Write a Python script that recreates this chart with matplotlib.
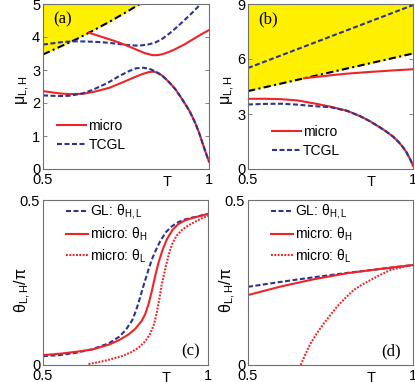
import matplotlib
matplotlib.use("Agg")
import matplotlib.pyplot as plt

RED = '#ee2428'
BLUE = '#2b3590'
YEL = '#fff000'
FRAME = '#707070'

# ---------------- panel (a) ----------------
a_dd_x = [0.5, 0.55, 0.6, 0.65, 0.7, 0.75, 0.8]
a_dd_y = [3.47, 3.70, 3.93, 4.19, 4.46, 4.75, 5.05]
a_bu_x = [0.5, 0.53, 0.56, 0.6, 0.64, 0.68, 0.72, 0.75, 0.78, 0.8, 0.82, 0.84, 0.86, 0.88, 0.9, 0.925, 0.95, 0.975]
a_bu_y = [3.77, 3.81, 3.85, 3.87, 3.86, 3.84, 3.80, 3.76, 3.74, 3.75, 3.78, 3.84, 3.95, 4.10, 4.27, 4.50, 4.74, 5.00]
a_ru_x = [0.638, 0.66, 0.7, 0.73, 0.76, 0.79, 0.81, 0.83, 0.845, 0.86, 0.88, 0.9, 0.925, 0.95, 0.975, 1.0]
a_ru_y = [4.13, 4.06, 3.93, 3.83, 3.71, 3.58, 3.50, 3.45, 3.45, 3.48, 3.55, 3.64, 3.77, 3.92, 4.07, 4.21]
a_rl_x = [0.5, 0.55, 0.58, 0.62, 0.65, 0.7, 0.75, 0.78, 0.8, 0.82, 0.835, 0.85, 0.86, 0.875, 0.89, 0.9, 0.92, 0.94, 0.95, 0.96, 0.97, 0.98, 0.99, 1.0]
a_rl_y = [2.36, 2.29, 2.27, 2.28, 2.33, 2.46, 2.67, 2.80, 2.88, 2.94, 2.95, 2.89, 2.82, 2.68, 2.52, 2.40, 2.10, 1.78, 1.58, 1.36, 1.10, 0.80, 0.50, 0.22]
a_bl_x = [0.5, 0.55, 0.58, 0.62, 0.65, 0.68, 0.7, 0.73, 0.76, 0.78, 0.8, 0.82, 0.84, 0.86, 0.875, 0.89, 0.9, 0.92, 0.94, 0.95, 0.96, 0.97, 0.98, 0.99, 1.0]
a_bl_y = [2.23, 2.21, 2.22, 2.29, 2.40, 2.54, 2.64, 2.82, 2.97, 3.05, 3.07, 3.04, 2.95, 2.82, 2.68, 2.52, 2.40, 2.10, 1.78, 1.58, 1.36, 1.10, 0.80, 0.50, 0.22]

# ---------------- panel (b) ----------------
b_dd_x = [0.5, 1.0]
b_dd_y = [4.25, 6.30]
b_bu_x = [0.5, 1.0]
b_bu_y = [5.51, 8.94]
b_ru_x = [0.67, 0.72, 0.76, 0.8, 0.85, 0.9, 0.95, 1.0]
b_ru_y = [4.95, 5.05, 5.13, 5.20, 5.27, 5.33, 5.39, 5.44]
b_rl_x = [0.5, 0.55, 0.6, 0.65, 0.7, 0.75, 0.8, 0.84, 0.87, 0.9, 0.92, 0.94, 0.955, 0.97, 0.98, 0.99, 0.995, 1.0]
b_rl_y = [3.83, 3.83, 3.81, 3.74, 3.58, 3.40, 3.18, 2.88, 2.60, 2.27, 2.03, 1.76, 1.50, 1.18, 0.92, 0.58, 0.40, 0.18]
b_bl_x = [0.5, 0.55, 0.6, 0.65, 0.7, 0.75, 0.8, 0.84, 0.87, 0.9, 0.92, 0.94, 0.955, 0.97, 0.98, 0.99, 0.995, 1.0]
b_bl_y = [3.52, 3.55, 3.56, 3.51, 3.43, 3.37, 3.17, 2.88, 2.60, 2.27, 2.03, 1.76, 1.50, 1.18, 0.92, 0.58, 0.40, 0.18]

# ---------------- panel (c) ----------------
c_gl_x = [0.5, 0.55, 0.6, 0.65, 0.7, 0.73, 0.75, 0.77, 0.78, 0.79, 0.8, 0.81, 0.82, 0.83, 0.842, 0.855, 0.872, 0.89, 0.91, 0.93, 0.953, 0.975, 1.0]
c_gl_y = [0.027, 0.030, 0.037, 0.048, 0.066, 0.085, 0.105, 0.135, 0.160, 0.190, 0.225, 0.258, 0.290, 0.320, 0.348, 0.375, 0.402, 0.420, 0.433, 0.441, 0.447, 0.452, 0.458]
c_h_x = [0.5, 0.55, 0.6, 0.65, 0.7, 0.73, 0.76, 0.78, 0.8, 0.81, 0.82, 0.83, 0.84, 0.85, 0.862, 0.875, 0.892, 0.91, 0.932, 0.955, 0.975, 1.0]
c_h_y = [0.030, 0.034, 0.040, 0.047, 0.062, 0.075, 0.093, 0.110, 0.135, 0.155, 0.185, 0.225, 0.270, 0.310, 0.348, 0.380, 0.409, 0.427, 0.439, 0.446, 0.451, 0.458]
c_l_x = [0.638, 0.67, 0.7, 0.74, 0.77, 0.79, 0.81, 0.825, 0.837, 0.845, 0.852, 0.86, 0.872, 0.882, 0.892, 0.905, 0.922, 0.94, 0.963, 0.98, 1.0]
c_l_y = [0.003, 0.009, 0.016, 0.027, 0.040, 0.053, 0.072, 0.095, 0.125, 0.160, 0.197, 0.245, 0.298, 0.338, 0.368, 0.392, 0.410, 0.423, 0.435, 0.444, 0.452]

# ---------------- panel (d) ----------------
d_gl_x = [0.5, 0.6, 0.7, 0.8, 0.9, 1.0]
d_gl_y = [0.237, 0.252, 0.266, 0.279, 0.291, 0.303]
d_h_x = [0.5, 0.6, 0.7, 0.8, 0.9, 1.0]
d_h_y = [0.212, 0.238, 0.260, 0.278, 0.291, 0.303]
d_l_x = [0.66, 0.665, 0.675, 0.69, 0.71, 0.73, 0.75, 0.77, 0.795, 0.82, 0.845, 0.872, 0.9, 0.932, 0.965, 1.0]
d_l_y = [0.0, 0.012, 0.035, 0.066, 0.098, 0.126, 0.152, 0.177, 0.203, 0.227, 0.243, 0.258, 0.273, 0.288, 0.296, 0.303]

W, H = 415, 382
plt.rcParams['font.family'] = ['Liberation Sans', 'DejaVu Sans']
plt.rcParams['mathtext.fontset'] = 'custom'
plt.rcParams['mathtext.rm'] = 'Liberation Sans'
plt.rcParams['mathtext.it'] = 'Liberation Sans'
plt.rcParams['mathtext.default'] = 'regular'
fig = plt.figure(figsize=(W / 100, H / 100), dpi=100)

LW = 1.5
DASH = (2.4, 1.2)
DASHDOT = (3.5, 1.6, 1.0, 1.6)
DOT = (0.9, 0.7)


def mkax(l, r, t, b):
    return fig.add_axes([l / W, (H - b) / H, (r - l) / W, (b - t) / H])


def style(ax, yt, ylim, ylabel, ly):
    ax.set_xlim(0.5, 1.0)
    ax.set_ylim(*ylim)
    ax.set_xticks([0.5, 1.0])
    ax.set_xticklabels(['0.5', '1'])
    ax.set_yticks(yt)
    ax.set_yticklabels([('%g' % v) for v in yt])
    ax.tick_params(direction='in', length=3, width=0.6, color=FRAME,
                   labelsize=10.5, pad=2, right=True, top=False)
    ax.tick_params(axis='x', length=0, pad=3)
    for s in ax.spines.values():
        s.set_color(FRAME)
        s.set_linewidth(0.8)
    ax.set_xlabel('T', fontsize=10.5)
    ax.xaxis.set_label_coords(0.745, -0.038, transform=ax.transAxes)
    ax.xaxis.label.set_verticalalignment('top')
    ax.set_ylabel(ylabel, fontsize=11.5)
    ax.yaxis.set_label_coords(-0.12, ly, transform=ax.transAxes)
    ax.yaxis.label.set_verticalalignment('center')


def leg(ax, x, y, hl, sp):
    ax.legend(loc='upper left', bbox_to_anchor=(x, y), frameon=False,
              fontsize=10, handlelength=hl, handletextpad=0.15, borderpad=0,
              borderaxespad=0, labelspacing=sp)


# (a)
ax = mkax(43, 209, 4, 169)
ax.fill_between(a_dd_x, a_dd_y, 5.5, color=YEL, lw=0)
ax.plot(a_dd_x, a_dd_y, color='k', ls=(0, DASHDOT), lw=LW)
ax.plot(a_bu_x, a_bu_y, color=BLUE, ls=(0, DASH), lw=LW)
ax.plot(a_ru_x, a_ru_y, color=RED, ls='-', lw=LW)
ax.plot(a_rl_x, a_rl_y, color=RED, ls='-', lw=LW, label='micro')
ax.plot(a_bl_x, a_bl_y, color=BLUE, ls=(0, DASH), lw=LW, label='TCGL')
style(ax, [0, 1, 2, 3, 4, 5], (0, 5), r'$\mu_{L,H}$', 0.48)
leg(ax, 0.085, 0.305, 2.1, 0.35)
ax.text(0.06, 0.905, '(a)', transform=ax.transAxes, fontsize=12,
        family='Liberation Serif', va='center')

# (b)
ax = mkax(248, 413, 4, 169)
ax.fill_between(b_dd_x, b_dd_y, 9.5, color=YEL, lw=0)
ax.plot(b_dd_x, b_dd_y, color='k', ls=(0, DASHDOT), lw=LW)
ax.plot(b_bu_x, b_bu_y, color=BLUE, ls=(0, DASH), lw=LW)
ax.plot(b_ru_x, b_ru_y, color=RED, ls='-', lw=LW)
ax.plot(b_rl_x, b_rl_y, color=RED, ls='-', lw=LW, label='micro')
ax.plot(b_bl_x, b_bl_y, color=BLUE, ls=(0, DASH), lw=LW, label='TCGL')
style(ax, [0, 3, 6, 9], (0, 9), r'$\mu_{L,H}$', 0.48)
leg(ax, 0.145, 0.265, 2.1, 0.35)
ax.text(0.06, 0.905, '(b)', transform=ax.transAxes, fontsize=12,
        family='Liberation Serif', va='center')

# (c)
ax = mkax(43, 208, 200, 365)
ax.plot(c_gl_x, c_gl_y, color=BLUE, ls=(0, DASH), lw=LW, label=r'GL: $\theta_{H,L}$')
ax.plot(c_h_x, c_h_y, color=RED, ls='-', lw=LW, label=r'micro: $\theta_{H}$')
ax.plot(c_l_x, c_l_y, color=RED, ls=(0, DOT), lw=LW, label=r'micro: $\theta_{L}$')
style(ax, [0, 0.5], (0, 0.5), r'$\theta_{L,H}/\pi$', 0.455)
leg(ax, 0.14, 0.985, 1.6, 0.3)
ax.text(0.84, 0.08, '(c)', transform=ax.transAxes, fontsize=12,
        family='Liberation Serif', va='center')

# (d)
ax = mkax(248, 413, 200, 365)
ax.plot(d_gl_x, d_gl_y, color=BLUE, ls=(0, DASH), lw=LW, label=r'GL: $\theta_{H,L}$')
ax.plot(d_h_x, d_h_y, color=RED, ls='-', lw=LW, label=r'micro: $\theta_{H}$')
ax.plot(d_l_x, d_l_y, color=RED, ls=(0, DOT), lw=LW, label=r'micro: $\theta_{L}$')
style(ax, [0, 0.5], (0, 0.5), r'$\theta_{L,H}/\pi$', 0.455)
leg(ax, 0.14, 0.985, 1.6, 0.3)
ax.text(0.81, 0.08, '(d)', transform=ax.transAxes, fontsize=12,
        family='Liberation Serif', va='center')

fig.savefig('out.png', dpi=100)
